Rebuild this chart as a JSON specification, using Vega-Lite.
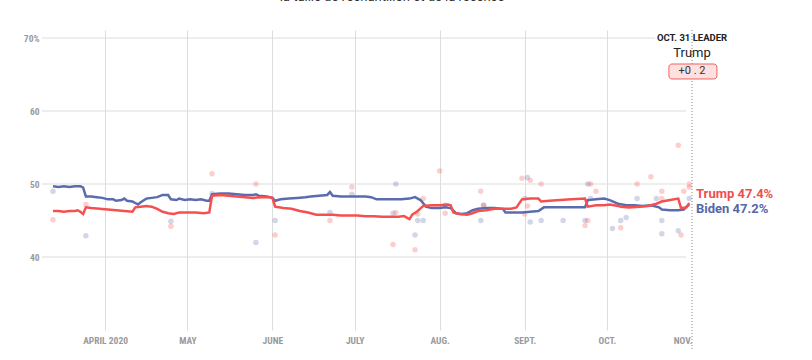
{
  "$schema": "https://vega.github.io/schema/vega-lite/v6.json",
  "width": 650,
  "height": 300,
  "autosize": {"type": "none"},
  "padding": {"left": 42, "top": 30, "right": 120, "bottom": 30},
  "background": "white",
  "title": {"text": "la taille de l'échantillon et de la récence", "anchor": "middle", "offset": 26, "dx": 25, "fontSize": 13, "fontWeight": "normal", "color": "#333", "font": "Roboto"},
  "config": {"view": {"stroke": null}, "font": "Roboto"},
  "datasets": {
    "grid": [{"value": 40}, {"value": 50}, {"value": 60}],
    "one": [{}],
    "trend": [
      {"date": "2020-03-13", "candidate": "Biden", "value": 49.7},
      {"date": "2020-03-15", "candidate": "Biden", "value": 49.6},
      {"date": "2020-03-17", "candidate": "Biden", "value": 49.7},
      {"date": "2020-03-19", "candidate": "Biden", "value": 49.6},
      {"date": "2020-03-21", "candidate": "Biden", "value": 49.7},
      {"date": "2020-03-23", "candidate": "Biden", "value": 49.7},
      {"date": "2020-03-24", "candidate": "Biden", "value": 49.5},
      {"date": "2020-03-25", "candidate": "Biden", "value": 48.3},
      {"date": "2020-03-27", "candidate": "Biden", "value": 48.3},
      {"date": "2020-03-29", "candidate": "Biden", "value": 48.2},
      {"date": "2020-03-31", "candidate": "Biden", "value": 48.1},
      {"date": "2020-04-02", "candidate": "Biden", "value": 47.9},
      {"date": "2020-04-04", "candidate": "Biden", "value": 47.9},
      {"date": "2020-04-05", "candidate": "Biden", "value": 47.7},
      {"date": "2020-04-07", "candidate": "Biden", "value": 47.8},
      {"date": "2020-04-08", "candidate": "Biden", "value": 48.0},
      {"date": "2020-04-09", "candidate": "Biden", "value": 47.7},
      {"date": "2020-04-11", "candidate": "Biden", "value": 47.6},
      {"date": "2020-04-12", "candidate": "Biden", "value": 47.4},
      {"date": "2020-04-13", "candidate": "Biden", "value": 47.2},
      {"date": "2020-04-14", "candidate": "Biden", "value": 47.5},
      {"date": "2020-04-16", "candidate": "Biden", "value": 48.0},
      {"date": "2020-04-18", "candidate": "Biden", "value": 48.1},
      {"date": "2020-04-20", "candidate": "Biden", "value": 48.2},
      {"date": "2020-04-22", "candidate": "Biden", "value": 48.5},
      {"date": "2020-04-24", "candidate": "Biden", "value": 48.5},
      {"date": "2020-04-25", "candidate": "Biden", "value": 47.9},
      {"date": "2020-04-27", "candidate": "Biden", "value": 47.8},
      {"date": "2020-04-28", "candidate": "Biden", "value": 48.0},
      {"date": "2020-04-30", "candidate": "Biden", "value": 47.8},
      {"date": "2020-05-02", "candidate": "Biden", "value": 47.9},
      {"date": "2020-05-04", "candidate": "Biden", "value": 47.8},
      {"date": "2020-05-06", "candidate": "Biden", "value": 47.9},
      {"date": "2020-05-08", "candidate": "Biden", "value": 47.7},
      {"date": "2020-05-09", "candidate": "Biden", "value": 47.7},
      {"date": "2020-05-10", "candidate": "Biden", "value": 48.6},
      {"date": "2020-05-13", "candidate": "Biden", "value": 48.7},
      {"date": "2020-05-16", "candidate": "Biden", "value": 48.7},
      {"date": "2020-05-19", "candidate": "Biden", "value": 48.6},
      {"date": "2020-05-22", "candidate": "Biden", "value": 48.5},
      {"date": "2020-05-25", "candidate": "Biden", "value": 48.5},
      {"date": "2020-05-26", "candidate": "Biden", "value": 48.6},
      {"date": "2020-05-27", "candidate": "Biden", "value": 48.4},
      {"date": "2020-05-30", "candidate": "Biden", "value": 48.3},
      {"date": "2020-06-01", "candidate": "Biden", "value": 48.1},
      {"date": "2020-06-02", "candidate": "Biden", "value": 47.7},
      {"date": "2020-06-04", "candidate": "Biden", "value": 47.9},
      {"date": "2020-06-07", "candidate": "Biden", "value": 48.0},
      {"date": "2020-06-10", "candidate": "Biden", "value": 48.1},
      {"date": "2020-06-13", "candidate": "Biden", "value": 48.2},
      {"date": "2020-06-15", "candidate": "Biden", "value": 48.3},
      {"date": "2020-06-18", "candidate": "Biden", "value": 48.4},
      {"date": "2020-06-21", "candidate": "Biden", "value": 48.5},
      {"date": "2020-06-22", "candidate": "Biden", "value": 48.9},
      {"date": "2020-06-23", "candidate": "Biden", "value": 48.4},
      {"date": "2020-06-26", "candidate": "Biden", "value": 48.3},
      {"date": "2020-06-29", "candidate": "Biden", "value": 48.3},
      {"date": "2020-07-02", "candidate": "Biden", "value": 48.3},
      {"date": "2020-07-05", "candidate": "Biden", "value": 48.3},
      {"date": "2020-07-07", "candidate": "Biden", "value": 48.2},
      {"date": "2020-07-09", "candidate": "Biden", "value": 47.9},
      {"date": "2020-07-12", "candidate": "Biden", "value": 47.9},
      {"date": "2020-07-15", "candidate": "Biden", "value": 47.9},
      {"date": "2020-07-18", "candidate": "Biden", "value": 47.9},
      {"date": "2020-07-21", "candidate": "Biden", "value": 48.0},
      {"date": "2020-07-23", "candidate": "Biden", "value": 48.2},
      {"date": "2020-07-25", "candidate": "Biden", "value": 47.8},
      {"date": "2020-07-27", "candidate": "Biden", "value": 46.9},
      {"date": "2020-07-29", "candidate": "Biden", "value": 46.7},
      {"date": "2020-08-01", "candidate": "Biden", "value": 46.7},
      {"date": "2020-08-03", "candidate": "Biden", "value": 46.8},
      {"date": "2020-08-05", "candidate": "Biden", "value": 46.7},
      {"date": "2020-08-07", "candidate": "Biden", "value": 46.0},
      {"date": "2020-08-09", "candidate": "Biden", "value": 45.9},
      {"date": "2020-08-11", "candidate": "Biden", "value": 46.0},
      {"date": "2020-08-13", "candidate": "Biden", "value": 46.4},
      {"date": "2020-08-15", "candidate": "Biden", "value": 46.6},
      {"date": "2020-08-18", "candidate": "Biden", "value": 46.7},
      {"date": "2020-08-21", "candidate": "Biden", "value": 46.7},
      {"date": "2020-08-24", "candidate": "Biden", "value": 46.6},
      {"date": "2020-08-25", "candidate": "Biden", "value": 46.1},
      {"date": "2020-08-28", "candidate": "Biden", "value": 46.1},
      {"date": "2020-08-31", "candidate": "Biden", "value": 46.1},
      {"date": "2020-09-03", "candidate": "Biden", "value": 46.2},
      {"date": "2020-09-06", "candidate": "Biden", "value": 46.3},
      {"date": "2020-09-08", "candidate": "Biden", "value": 46.8},
      {"date": "2020-09-11", "candidate": "Biden", "value": 46.8},
      {"date": "2020-09-15", "candidate": "Biden", "value": 46.8},
      {"date": "2020-09-19", "candidate": "Biden", "value": 46.8},
      {"date": "2020-09-23", "candidate": "Biden", "value": 46.8},
      {"date": "2020-09-24", "candidate": "Biden", "value": 47.8},
      {"date": "2020-09-27", "candidate": "Biden", "value": 47.9},
      {"date": "2020-09-30", "candidate": "Biden", "value": 48.0},
      {"date": "2020-10-02", "candidate": "Biden", "value": 47.8},
      {"date": "2020-10-05", "candidate": "Biden", "value": 47.3},
      {"date": "2020-10-08", "candidate": "Biden", "value": 47.1},
      {"date": "2020-10-11", "candidate": "Biden", "value": 47.1},
      {"date": "2020-10-14", "candidate": "Biden", "value": 47.0},
      {"date": "2020-10-17", "candidate": "Biden", "value": 47.1},
      {"date": "2020-10-20", "candidate": "Biden", "value": 46.8},
      {"date": "2020-10-21", "candidate": "Biden", "value": 46.5},
      {"date": "2020-10-24", "candidate": "Biden", "value": 46.4},
      {"date": "2020-10-27", "candidate": "Biden", "value": 46.4},
      {"date": "2020-10-29", "candidate": "Biden", "value": 46.5},
      {"date": "2020-10-30", "candidate": "Biden", "value": 46.9},
      {"date": "2020-10-31", "candidate": "Biden", "value": 47.2},
      {"date": "2020-03-13", "candidate": "Trump", "value": 46.3},
      {"date": "2020-03-15", "candidate": "Trump", "value": 46.3},
      {"date": "2020-03-17", "candidate": "Trump", "value": 46.2},
      {"date": "2020-03-19", "candidate": "Trump", "value": 46.3},
      {"date": "2020-03-21", "candidate": "Trump", "value": 46.3},
      {"date": "2020-03-22", "candidate": "Trump", "value": 46.4},
      {"date": "2020-03-23", "candidate": "Trump", "value": 46.2},
      {"date": "2020-03-24", "candidate": "Trump", "value": 45.9},
      {"date": "2020-03-25", "candidate": "Trump", "value": 46.8},
      {"date": "2020-03-27", "candidate": "Trump", "value": 46.7},
      {"date": "2020-03-30", "candidate": "Trump", "value": 46.6},
      {"date": "2020-04-02", "candidate": "Trump", "value": 46.5},
      {"date": "2020-04-05", "candidate": "Trump", "value": 46.4},
      {"date": "2020-04-08", "candidate": "Trump", "value": 46.3},
      {"date": "2020-04-11", "candidate": "Trump", "value": 46.2},
      {"date": "2020-04-12", "candidate": "Trump", "value": 46.8},
      {"date": "2020-04-14", "candidate": "Trump", "value": 46.9},
      {"date": "2020-04-16", "candidate": "Trump", "value": 47.0},
      {"date": "2020-04-18", "candidate": "Trump", "value": 46.9},
      {"date": "2020-04-20", "candidate": "Trump", "value": 46.6},
      {"date": "2020-04-22", "candidate": "Trump", "value": 46.2},
      {"date": "2020-04-24", "candidate": "Trump", "value": 46.0},
      {"date": "2020-04-26", "candidate": "Trump", "value": 45.9},
      {"date": "2020-04-28", "candidate": "Trump", "value": 46.1},
      {"date": "2020-05-01", "candidate": "Trump", "value": 46.1},
      {"date": "2020-05-04", "candidate": "Trump", "value": 46.1},
      {"date": "2020-05-07", "candidate": "Trump", "value": 46.0},
      {"date": "2020-05-09", "candidate": "Trump", "value": 46.1},
      {"date": "2020-05-10", "candidate": "Trump", "value": 48.4},
      {"date": "2020-05-13", "candidate": "Trump", "value": 48.5},
      {"date": "2020-05-16", "candidate": "Trump", "value": 48.4},
      {"date": "2020-05-19", "candidate": "Trump", "value": 48.3},
      {"date": "2020-05-22", "candidate": "Trump", "value": 48.2},
      {"date": "2020-05-25", "candidate": "Trump", "value": 48.1},
      {"date": "2020-05-28", "candidate": "Trump", "value": 48.2},
      {"date": "2020-05-31", "candidate": "Trump", "value": 48.2},
      {"date": "2020-06-01", "candidate": "Trump", "value": 48.1},
      {"date": "2020-06-02", "candidate": "Trump", "value": 46.9},
      {"date": "2020-06-05", "candidate": "Trump", "value": 46.7},
      {"date": "2020-06-08", "candidate": "Trump", "value": 46.6},
      {"date": "2020-06-11", "candidate": "Trump", "value": 46.3},
      {"date": "2020-06-14", "candidate": "Trump", "value": 46.1},
      {"date": "2020-06-17", "candidate": "Trump", "value": 45.8},
      {"date": "2020-06-20", "candidate": "Trump", "value": 45.8},
      {"date": "2020-06-23", "candidate": "Trump", "value": 45.8},
      {"date": "2020-06-26", "candidate": "Trump", "value": 45.7},
      {"date": "2020-06-29", "candidate": "Trump", "value": 45.7},
      {"date": "2020-07-02", "candidate": "Trump", "value": 45.7},
      {"date": "2020-07-05", "candidate": "Trump", "value": 45.6},
      {"date": "2020-07-08", "candidate": "Trump", "value": 45.6},
      {"date": "2020-07-11", "candidate": "Trump", "value": 45.5},
      {"date": "2020-07-14", "candidate": "Trump", "value": 45.5},
      {"date": "2020-07-17", "candidate": "Trump", "value": 45.5},
      {"date": "2020-07-19", "candidate": "Trump", "value": 45.6},
      {"date": "2020-07-21", "candidate": "Trump", "value": 45.2},
      {"date": "2020-07-22", "candidate": "Trump", "value": 45.8},
      {"date": "2020-07-24", "candidate": "Trump", "value": 46.3},
      {"date": "2020-07-26", "candidate": "Trump", "value": 47.0},
      {"date": "2020-07-29", "candidate": "Trump", "value": 47.1},
      {"date": "2020-08-01", "candidate": "Trump", "value": 47.1},
      {"date": "2020-08-04", "candidate": "Trump", "value": 47.2},
      {"date": "2020-08-05", "candidate": "Trump", "value": 47.1},
      {"date": "2020-08-06", "candidate": "Trump", "value": 46.1},
      {"date": "2020-08-08", "candidate": "Trump", "value": 45.9},
      {"date": "2020-08-11", "candidate": "Trump", "value": 45.8},
      {"date": "2020-08-13", "candidate": "Trump", "value": 46.0},
      {"date": "2020-08-15", "candidate": "Trump", "value": 46.3},
      {"date": "2020-08-18", "candidate": "Trump", "value": 46.4},
      {"date": "2020-08-21", "candidate": "Trump", "value": 46.6},
      {"date": "2020-08-24", "candidate": "Trump", "value": 46.6},
      {"date": "2020-08-27", "candidate": "Trump", "value": 46.6},
      {"date": "2020-08-29", "candidate": "Trump", "value": 46.8},
      {"date": "2020-08-31", "candidate": "Trump", "value": 47.9},
      {"date": "2020-09-03", "candidate": "Trump", "value": 48.0},
      {"date": "2020-09-06", "candidate": "Trump", "value": 48.0},
      {"date": "2020-09-07", "candidate": "Trump", "value": 47.6},
      {"date": "2020-09-10", "candidate": "Trump", "value": 47.7},
      {"date": "2020-09-14", "candidate": "Trump", "value": 47.8},
      {"date": "2020-09-18", "candidate": "Trump", "value": 47.9},
      {"date": "2020-09-23", "candidate": "Trump", "value": 48.0},
      {"date": "2020-09-24", "candidate": "Trump", "value": 46.9},
      {"date": "2020-09-27", "candidate": "Trump", "value": 47.1},
      {"date": "2020-09-30", "candidate": "Trump", "value": 47.1},
      {"date": "2020-10-02", "candidate": "Trump", "value": 47.2},
      {"date": "2020-10-05", "candidate": "Trump", "value": 47.0},
      {"date": "2020-10-06", "candidate": "Trump", "value": 46.9},
      {"date": "2020-10-09", "candidate": "Trump", "value": 46.8},
      {"date": "2020-10-13", "candidate": "Trump", "value": 46.9},
      {"date": "2020-10-16", "candidate": "Trump", "value": 47.0},
      {"date": "2020-10-19", "candidate": "Trump", "value": 47.3},
      {"date": "2020-10-21", "candidate": "Trump", "value": 47.6},
      {"date": "2020-10-24", "candidate": "Trump", "value": 47.8},
      {"date": "2020-10-27", "candidate": "Trump", "value": 48.0},
      {"date": "2020-10-28", "candidate": "Trump", "value": 46.7},
      {"date": "2020-10-30", "candidate": "Trump", "value": 46.8},
      {"date": "2020-10-31", "candidate": "Trump", "value": 47.4}
    ],
    "polls": [
      {"date": "2020-03-13", "candidate": "Biden", "value": 49.0},
      {"date": "2020-03-13", "candidate": "Trump", "value": 45.1},
      {"date": "2020-03-25", "candidate": "Biden", "value": 42.9},
      {"date": "2020-03-25", "candidate": "Trump", "value": 47.2},
      {"date": "2020-04-25", "candidate": "Biden", "value": 44.9},
      {"date": "2020-04-25", "candidate": "Trump", "value": 44.2},
      {"date": "2020-05-10", "candidate": "Biden", "value": 48.7},
      {"date": "2020-05-10", "candidate": "Trump", "value": 51.4},
      {"date": "2020-05-26", "candidate": "Biden", "value": 42.0},
      {"date": "2020-05-26", "candidate": "Trump", "value": 50.0},
      {"date": "2020-06-02", "candidate": "Biden", "value": 45.0},
      {"date": "2020-06-02", "candidate": "Trump", "value": 43.0},
      {"date": "2020-06-22", "candidate": "Biden", "value": 46.1},
      {"date": "2020-06-22", "candidate": "Trump", "value": 45.0},
      {"date": "2020-06-30", "candidate": "Biden", "value": 48.6},
      {"date": "2020-06-30", "candidate": "Trump", "value": 49.6},
      {"date": "2020-07-15", "candidate": "Biden", "value": 46.0},
      {"date": "2020-07-15", "candidate": "Trump", "value": 41.7},
      {"date": "2020-07-16", "candidate": "Biden", "value": 50.0},
      {"date": "2020-07-16", "candidate": "Trump", "value": 46.1},
      {"date": "2020-07-23", "candidate": "Biden", "value": 43.0},
      {"date": "2020-07-23", "candidate": "Trump", "value": 41.0},
      {"date": "2020-07-24", "candidate": "Biden", "value": 45.0},
      {"date": "2020-07-24", "candidate": "Trump", "value": 45.9},
      {"date": "2020-07-26", "candidate": "Biden", "value": 45.0},
      {"date": "2020-07-26", "candidate": "Trump", "value": 48.0},
      {"date": "2020-08-01", "candidate": "Trump", "value": 51.8},
      {"date": "2020-08-03", "candidate": "Biden", "value": 47.1},
      {"date": "2020-08-03", "candidate": "Trump", "value": 46.0},
      {"date": "2020-08-16", "candidate": "Biden", "value": 45.0},
      {"date": "2020-08-16", "candidate": "Trump", "value": 49.0},
      {"date": "2020-08-17", "candidate": "Biden", "value": 47.1},
      {"date": "2020-08-17", "candidate": "Trump", "value": 47.1},
      {"date": "2020-08-31", "candidate": "Trump", "value": 50.8},
      {"date": "2020-09-01", "candidate": "Biden", "value": 48.0},
      {"date": "2020-09-01", "candidate": "Trump", "value": 45.9},
      {"date": "2020-09-02", "candidate": "Biden", "value": 50.9},
      {"date": "2020-09-02", "candidate": "Trump", "value": 47.0},
      {"date": "2020-09-03", "candidate": "Biden", "value": 44.8},
      {"date": "2020-09-03", "candidate": "Trump", "value": 50.5},
      {"date": "2020-09-07", "candidate": "Biden", "value": 45.0},
      {"date": "2020-09-07", "candidate": "Trump", "value": 50.0},
      {"date": "2020-09-15", "candidate": "Biden", "value": 45.0},
      {"date": "2020-09-23", "candidate": "Biden", "value": 45.0},
      {"date": "2020-09-23", "candidate": "Trump", "value": 44.3},
      {"date": "2020-09-24", "candidate": "Biden", "value": 50.0},
      {"date": "2020-09-24", "candidate": "Trump", "value": 45.0},
      {"date": "2020-09-25", "candidate": "Biden", "value": 48.0},
      {"date": "2020-09-25", "candidate": "Trump", "value": 50.0},
      {"date": "2020-09-27", "candidate": "Trump", "value": 49.0},
      {"date": "2020-10-03", "candidate": "Biden", "value": 43.9},
      {"date": "2020-10-06", "candidate": "Biden", "value": 45.0},
      {"date": "2020-10-06", "candidate": "Trump", "value": 44.0},
      {"date": "2020-10-08", "candidate": "Biden", "value": 45.4},
      {"date": "2020-10-12", "candidate": "Biden", "value": 48.0},
      {"date": "2020-10-12", "candidate": "Trump", "value": 50.0},
      {"date": "2020-10-17", "candidate": "Trump", "value": 51.0},
      {"date": "2020-10-19", "candidate": "Biden", "value": 48.0},
      {"date": "2020-10-21", "candidate": "Biden", "value": 45.0},
      {"date": "2020-10-21", "candidate": "Biden", "value": 43.2},
      {"date": "2020-10-21", "candidate": "Trump", "value": 49.0},
      {"date": "2020-10-21", "candidate": "Trump", "value": 48.0},
      {"date": "2020-10-27", "candidate": "Biden", "value": 43.6},
      {"date": "2020-10-27", "candidate": "Trump", "value": 55.3},
      {"date": "2020-10-28", "candidate": "Trump", "value": 43.0},
      {"date": "2020-10-29", "candidate": "Trump", "value": 49.0},
      {"date": "2020-10-31", "candidate": "Biden", "value": 48.0},
      {"date": "2020-10-31", "candidate": "Trump", "value": 50.0},
      {"date": "2020-10-31", "candidate": "Trump", "value": 49.6}
    ]
  },
  "layer": [
    {
      "data": {"name": "trend"},
      "mark": {"type": "line", "opacity": 0},
      "encoding": {
        "x": {"field": "date", "type": "temporal", "title": null,
          "scale": {"type": "utc", "domain": [{"year": 2020, "month": 3, "date": 9, "utc": true}, {"year": 2020, "month": 11, "date": 1, "utc": true}]},
          "axis": {
            "values": [
              {"year": 2020, "month": 4, "date": 1, "utc": true},
              {"year": 2020, "month": 5, "date": 1, "utc": true},
              {"year": 2020, "month": 6, "date": 1, "utc": true},
              {"year": 2020, "month": 7, "date": 1, "utc": true},
              {"year": 2020, "month": 8, "date": 1, "utc": true},
              {"year": 2020, "month": 9, "date": 1, "utc": true},
              {"year": 2020, "month": 10, "date": 1, "utc": true},
              {"year": 2020, "month": 11, "date": 1, "utc": true}
            ],
            "labelExpr": "['APRIL 2020','MAY','JUNE','JULY','AUG.','SEPT.','OCT.','NOV.'][utcmonth(datum.value)-3]",
            "domain": false, "ticks": false, "grid": true, "gridColor": "#dddddd",
            "gridOpacity": {"condition": {"test": "utcmonth(datum.value) == 10", "value": 0}, "value": 1},
            "labelPadding": 5, "labelFontSize": 9.5, "labelFontWeight": "bold", "labelColor": "#9a9a9a",
            "labelFont": "Liberation Sans Narrow, Roboto Condensed, Roboto"
          }
        },
        "y": {"field": "value", "type": "quantitative", "title": null,
          "scale": {"domain": [30, 71.1], "nice": false, "zero": false},
          "axis": {
            "values": [40, 50, 60, 70],
            "labelExpr": "datum.value == 70 ? '70%' : datum.label",
            "domain": false, "ticks": false, "grid": false,
            "labelPadding": 3, "labelFontSize": 9.5, "labelFontWeight": "bold", "labelColor": "#9a9a9a",
            "labelFont": "Liberation Sans Narrow, Roboto Condensed, Roboto"
          }
        }
      }
    },
    {
      "data": {"name": "grid"},
      "mark": {"type": "rule", "color": "#dddddd", "strokeWidth": 1},
      "encoding": {
        "x": {"datum": {"year": 2020, "month": 3, "date": 9, "utc": true}, "type": "temporal"},
        "x2": {"datum": {"year": 2020, "month": 10, "date": 29, "hours": 20, "utc": true}},
        "y": {"field": "value", "type": "quantitative", "title": null}
      }
    },
    {
      "data": {"name": "one"},
      "mark": {"type": "rule", "color": "#dddddd", "strokeWidth": 1},
      "encoding": {
        "x": {"datum": {"year": 2020, "month": 3, "date": 9, "utc": true}, "type": "temporal"},
        "x2": {"datum": {"year": 2020, "month": 10, "date": 18, "hours": 12, "utc": true}},
        "y": {"datum": 70, "type": "quantitative"}
      }
    },
    {
      "data": {"name": "polls"},
      "mark": {"type": "circle", "size": 30, "opacity": 0.28},
      "encoding": {
        "x": {"field": "date", "type": "temporal", "title": null},
        "y": {"field": "value", "type": "quantitative", "title": null},
        "color": {"field": "candidate", "type": "nominal", "legend": null,
          "scale": {"domain": ["Trump", "Biden"], "range": ["#f5504f", "#5a6cae"]}}
      }
    },
    {
      "data": {"name": "trend"},
      "transform": [{"filter": "datum.candidate == 'Biden'"}],
      "mark": {"type": "line", "strokeWidth": 2.5, "color": "#5a6cae", "interpolate": "linear"},
      "encoding": {
        "x": {"field": "date", "type": "temporal", "title": null},
        "y": {"field": "value", "type": "quantitative", "title": null}
      }
    },
    {
      "data": {"name": "trend"},
      "transform": [{"filter": "datum.candidate == 'Trump'"}],
      "mark": {"type": "line", "strokeWidth": 2.5, "color": "#f5504f", "interpolate": "linear"},
      "encoding": {
        "x": {"field": "date", "type": "temporal", "title": null},
        "y": {"field": "value", "type": "quantitative", "title": null}
      }
    },
    {
      "data": {"name": "one"},
      "mark": {"type": "rule", "color": "#888888", "strokeWidth": 1, "strokeDash": [1, 2]},
      "encoding": {
        "x": {"datum": {"year": 2020, "month": 11, "date": 1, "utc": true}, "type": "temporal"},
        "y": {"datum": 71.1, "type": "quantitative"},
        "y2": {"datum": 27.26}
      }
    },
    {
      "data": {"name": "one"},
      "mark": {"type": "text", "text": "OCT. 31 LEADER", "fontSize": 9.5, "fontWeight": "bold", "color": "#222222", "align": "center", "baseline": "middle"},
      "encoding": {
        "x": {"datum": {"year": 2020, "month": 11, "date": 1, "utc": true}, "type": "temporal"},
        "y": {"datum": 69.95, "type": "quantitative"}
      }
    },
    {
      "data": {"name": "one"},
      "mark": {"type": "text", "text": "Trump", "fontSize": 13, "color": "#222222", "align": "center", "baseline": "middle"},
      "encoding": {
        "x": {"datum": {"year": 2020, "month": 11, "date": 1, "utc": true}, "type": "temporal"},
        "y": {"datum": 67.95, "type": "quantitative"}
      }
    },
    {
      "data": {"name": "one"},
      "mark": {"type": "rect", "fill": "#fde0e0", "stroke": "#f0605f", "strokeWidth": 1, "cornerRadius": 3},
      "encoding": {
        "x": {"datum": {"year": 2020, "month": 10, "date": 23, "hours": 14, "utc": true}, "type": "temporal"},
        "x2": {"datum": {"year": 2020, "month": 11, "date": 10, "hours": 2, "utc": true}},
        "y": {"datum": 66.44, "type": "quantitative"},
        "y2": {"datum": 64.39}
      }
    },
    {
      "data": {"name": "one"},
      "mark": {"type": "text", "text": "+0 . 2", "fontSize": 11, "color": "#333333", "align": "center", "baseline": "middle"},
      "encoding": {
        "x": {"datum": {"year": 2020, "month": 11, "date": 1, "utc": true}, "type": "temporal"},
        "y": {"datum": 65.42, "type": "quantitative"}
      }
    },
    {
      "data": {"name": "one"},
      "mark": {"type": "text", "text": "Trump 47.4%", "fontSize": 13, "fontWeight": "bold", "color": "#f04e4e", "align": "left", "baseline": "middle", "dx": 4},
      "encoding": {
        "x": {"datum": {"year": 2020, "month": 11, "date": 1, "utc": true}, "type": "temporal"},
        "y": {"datum": 48.63, "type": "quantitative"}
      }
    },
    {
      "data": {"name": "one"},
      "mark": {"type": "text", "text": "Biden 47.2%", "fontSize": 13, "fontWeight": "bold", "color": "#5567a8", "align": "left", "baseline": "middle", "dx": 4},
      "encoding": {
        "x": {"datum": {"year": 2020, "month": 11, "date": 1, "utc": true}, "type": "temporal"},
        "y": {"datum": 46.58, "type": "quantitative"}
      }
    }
  ]
}
